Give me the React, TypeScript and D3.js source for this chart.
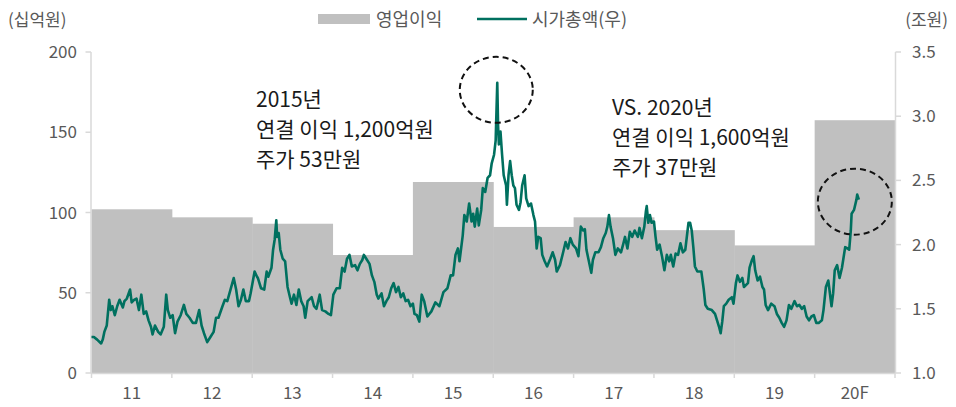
import React from "react";
import * as d3 from "d3";

// ---- data ----
const categories = ["11", "12", "13", "14", "15", "16", "17", "18", "19", "20F"];
const categoryYears = [2011, 2012, 2013, 2014, 2015, 2016, 2017, 2018, 2019, 2020];
const operatingProfit = [102, 97, 93, 73.5, 119, 91, 97, 89, 79.5, 157.5]; // 십억원
const leftTicks = [0, 50, 100, 150, 200];
const rightTicks = [1.0, 1.5, 2.0, 2.5, 3.0, 3.5];

// 시가총액 (조원): [year fraction, value]
const marketCap: [number, number][] = [
  [2011.0, 1.28], [2011.03, 1.28], [2011.07, 1.26], [2011.12, 1.23], [2011.14, 1.26], [2011.16, 1.32],
  [2011.19, 1.37], [2011.22, 1.57], [2011.24, 1.49], [2011.26, 1.52], [2011.29, 1.45], [2011.32, 1.52],
  [2011.35, 1.57], [2011.39, 1.51], [2011.41, 1.56], [2011.44, 1.58], [2011.48, 1.65], [2011.5, 1.55],
  [2011.53, 1.57], [2011.56, 1.58], [2011.59, 1.49], [2011.62, 1.61], [2011.65, 1.46], [2011.68, 1.48],
  [2011.71, 1.41], [2011.74, 1.36], [2011.76, 1.3], [2011.79, 1.37], [2011.83, 1.32], [2011.86, 1.3],
  [2011.9, 1.36], [2011.93, 1.61], [2011.95, 1.49], [2011.98, 1.43], [2012.01, 1.45], [2012.04, 1.31],
  [2012.07, 1.4], [2012.11, 1.45], [2012.15, 1.53], [2012.18, 1.46], [2012.22, 1.43], [2012.26, 1.39],
  [2012.3, 1.39], [2012.34, 1.49], [2012.37, 1.37], [2012.4, 1.31], [2012.44, 1.24], [2012.48, 1.28],
  [2012.52, 1.32], [2012.55, 1.43], [2012.58, 1.43], [2012.63, 1.52], [2012.66, 1.57], [2012.69, 1.56],
  [2012.73, 1.65], [2012.77, 1.74], [2012.8, 1.65], [2012.83, 1.52], [2012.86, 1.57], [2012.89, 1.65],
  [2012.92, 1.56], [2012.96, 1.56], [2012.98, 1.62], [2013.03, 1.79], [2013.06, 1.75], [2013.07, 1.74],
  [2013.11, 1.66], [2013.15, 1.65], [2013.18, 1.79], [2013.2, 1.75], [2013.24, 1.82], [2013.26, 1.96],
  [2013.28, 2.04], [2013.3, 2.19], [2013.31, 2.06], [2013.33, 2.09], [2013.35, 1.96], [2013.38, 1.89],
  [2013.41, 1.87], [2013.44, 1.67], [2013.47, 1.59], [2013.49, 1.54], [2013.52, 1.61], [2013.55, 1.53],
  [2013.58, 1.65], [2013.61, 1.56], [2013.64, 1.52], [2013.66, 1.43], [2013.69, 1.56], [2013.74, 1.59],
  [2013.77, 1.52], [2013.8, 1.5], [2013.84, 1.61], [2013.87, 1.49], [2013.91, 1.48], [2013.95, 1.46],
  [2013.98, 1.45], [2014.01, 1.61], [2014.05, 1.66], [2014.09, 1.66], [2014.12, 1.82], [2014.15, 1.79],
  [2014.18, 1.89], [2014.21, 1.92], [2014.24, 1.83], [2014.28, 1.84], [2014.31, 1.8], [2014.34, 1.85],
  [2014.37, 1.88], [2014.39, 1.92], [2014.42, 1.89], [2014.46, 1.85], [2014.49, 1.76], [2014.52, 1.71],
  [2014.55, 1.61], [2014.57, 1.58], [2014.61, 1.62], [2014.64, 1.52], [2014.67, 1.56], [2014.7, 1.59],
  [2014.73, 1.66], [2014.76, 1.7], [2014.79, 1.63], [2014.82, 1.67], [2014.85, 1.59], [2014.88, 1.62],
  [2014.91, 1.56], [2014.94, 1.57], [2014.97, 1.52], [2015.0, 1.54], [2015.02, 1.46], [2015.05, 1.45],
  [2015.08, 1.4], [2015.11, 1.61], [2015.14, 1.56], [2015.18, 1.44], [2015.23, 1.48], [2015.28, 1.55],
  [2015.33, 1.52], [2015.38, 1.63], [2015.43, 1.66], [2015.47, 1.76], [2015.5, 1.76], [2015.53, 1.92],
  [2015.56, 1.97], [2015.58, 1.87], [2015.62, 2.07], [2015.64, 2.23], [2015.67, 2.18], [2015.7, 2.32],
  [2015.73, 2.18], [2015.75, 2.24], [2015.77, 2.14], [2015.8, 2.28], [2015.82, 2.15], [2015.85, 2.27],
  [2015.87, 2.44], [2015.9, 2.41], [2015.93, 2.52], [2015.96, 2.54], [2015.98, 2.63], [2016.01, 2.7],
  [2016.03, 2.81], [2016.05, 3.26], [2016.06, 2.93], [2016.07, 2.78], [2016.09, 2.88], [2016.11, 2.7],
  [2016.13, 2.54], [2016.16, 2.46], [2016.17, 2.31], [2016.19, 2.54], [2016.21, 2.65], [2016.23, 2.54],
  [2016.25, 2.46], [2016.27, 2.44], [2016.29, 2.31], [2016.32, 2.27], [2016.34, 2.33], [2016.36, 2.46],
  [2016.39, 2.54], [2016.41, 2.36], [2016.44, 2.3], [2016.47, 2.32], [2016.5, 2.23], [2016.52, 2.18],
  [2016.54, 1.97], [2016.56, 2.06], [2016.59, 2.05], [2016.61, 1.92], [2016.64, 1.87], [2016.67, 1.83],
  [2016.71, 1.89], [2016.74, 1.94], [2016.77, 1.88], [2016.79, 1.79], [2016.83, 1.84], [2016.87, 1.94],
  [2016.9, 2.02], [2016.93, 1.97], [2016.96, 2.05], [2016.99, 2.0], [2017.03, 1.97], [2017.06, 1.91],
  [2017.09, 2.14], [2017.12, 2.11], [2017.14, 2.12], [2017.16, 1.96], [2017.19, 1.87], [2017.22, 1.78],
  [2017.24, 1.88], [2017.27, 1.94], [2017.31, 1.94], [2017.34, 1.98], [2017.37, 2.05], [2017.4, 2.09],
  [2017.42, 2.14], [2017.44, 2.23], [2017.46, 2.14], [2017.49, 2.05], [2017.52, 1.92], [2017.55, 1.97],
  [2017.59, 1.94], [2017.62, 2.01], [2017.64, 2.06], [2017.67, 1.97], [2017.7, 2.1], [2017.73, 2.06],
  [2017.76, 2.11], [2017.8, 2.06], [2017.82, 2.13], [2017.85, 2.05], [2017.88, 2.14], [2017.9, 2.26],
  [2017.91, 2.3], [2017.93, 2.17], [2017.95, 2.23], [2017.97, 2.17], [2018.0, 2.18], [2018.02, 2.06],
  [2018.04, 1.96], [2018.07, 2.0], [2018.1, 1.91], [2018.13, 1.8], [2018.16, 1.92], [2018.19, 1.87],
  [2018.21, 1.92], [2018.24, 1.83], [2018.27, 1.93], [2018.3, 1.92], [2018.33, 2.01], [2018.36, 1.94],
  [2018.39, 1.96], [2018.43, 2.17], [2018.45, 2.17], [2018.47, 2.11], [2018.49, 1.98], [2018.51, 1.83],
  [2018.54, 1.79], [2018.59, 1.79], [2018.62, 1.65], [2018.64, 1.53], [2018.67, 1.5], [2018.72, 1.49],
  [2018.76, 1.46], [2018.79, 1.4], [2018.81, 1.36], [2018.83, 1.31], [2018.85, 1.4], [2018.87, 1.52],
  [2018.9, 1.54], [2018.93, 1.57], [2018.97, 1.59], [2018.99, 1.54], [2019.02, 1.7], [2019.04, 1.76],
  [2019.07, 1.71], [2019.1, 1.74], [2019.12, 1.67], [2019.17, 1.7], [2019.19, 1.82], [2019.22, 1.88],
  [2019.24, 1.91], [2019.26, 1.8], [2019.29, 1.72], [2019.32, 1.75], [2019.35, 1.67], [2019.37, 1.65],
  [2019.39, 1.53], [2019.42, 1.49], [2019.46, 1.54], [2019.5, 1.52], [2019.53, 1.46], [2019.56, 1.43],
  [2019.59, 1.39], [2019.62, 1.36], [2019.65, 1.41], [2019.68, 1.53], [2019.71, 1.5], [2019.75, 1.56],
  [2019.78, 1.52], [2019.81, 1.53], [2019.84, 1.5], [2019.87, 1.52], [2019.9, 1.44], [2019.93, 1.41],
  [2019.96, 1.44], [2019.99, 1.45], [2020.02, 1.39], [2020.05, 1.39], [2020.09, 1.41], [2020.11, 1.49],
  [2020.14, 1.67], [2020.17, 1.72], [2020.19, 1.62], [2020.21, 1.52], [2020.23, 1.62], [2020.25, 1.8],
  [2020.28, 1.84], [2020.31, 1.74], [2020.34, 1.82], [2020.38, 1.98], [2020.41, 1.97], [2020.43, 1.96],
  [2020.45, 2.11], [2020.46, 2.24], [2020.49, 2.27], [2020.52, 2.35], [2020.53, 2.39], [2020.55, 2.35],
];

const annotation2015 = ["2015년", "연결 이익 1,200억원", "주가 53만원"];
const annotation2020 = ["VS. 2020년", "연결 이익 1,600억원", "주가 37만원"];

const W = 956;
const H = 407;
const FONT = "'Noto Sans CJK KR', 'Noto Sans', sans-serif";

export default function App() {
  const left = 91.5;
  const right = 895;
  const top = 52;
  const bottom = 373;

  const xBand = d3.scaleBand<string>().domain(categories).range([left, right]).paddingInner(0).paddingOuter(0);
  const xTime = d3.scaleLinear().domain([categoryYears[0], categoryYears[categoryYears.length - 1] + 1]).range([left, right]);
  const yL = d3.scaleLinear().domain([0, 200]).range([bottom, top]);
  const yR = d3.scaleLinear().domain([1.0, 3.5]).range([bottom, top]);

  const line = d3
    .line<[number, number]>()
    .x((d) => xTime(d[0]))
    .y((d) => yR(d[1]))
    .curve(d3.curveLinear);

  const axisColor = "#d9d9d9";
  const tickText = "#595959";
  const teal = "#00705f";
  const barGray = "#c0c0c0";

  const peak = marketCap.reduce((a, b) => (b[1] > a[1] ? b : a));
  const last = marketCap[marketCap.length - 1];

  const boundaries = categories.map((c) => xBand(c) as number).concat([right]);

  return (
    <svg width={W} height={H} style={{ position: "absolute", left: 0, top: 0, background: "#fff" }} fontFamily={FONT}>
      {/* bars */}
      {categories.map((c, i) => (
        <rect
          key={c}
          x={xBand(c) as number}
          y={yL(operatingProfit[i])}
          width={(xBand.bandwidth() as number) + 0.5}
          height={bottom - yL(operatingProfit[i])}
          fill={barGray}
        />
      ))}

      {/* axes */}
      <line x1={left - 0.5} x2={left - 0.5} y1={top} y2={bottom} stroke={axisColor} strokeWidth={1.5} />
      {leftTicks.map((t) => (
        <g key={"l" + t}>
          <line x1={left - 6} x2={left - 0.5} y1={yL(t)} y2={yL(t)} stroke={axisColor} strokeWidth={1.5} />
          <text x={77} y={yL(t) + 6} textAnchor="end" fontSize={17} fill={tickText}>
            {t}
          </text>
        </g>
      ))}
      <line x1={right + 0.5} x2={right + 0.5} y1={top} y2={bottom} stroke={axisColor} strokeWidth={1.5} />
      {rightTicks.map((t) => (
        <g key={"r" + t}>
          <line x1={right + 0.5} x2={right + 6} y1={yR(t)} y2={yR(t)} stroke={axisColor} strokeWidth={1.5} />
          <text x={912} y={yR(t) + 6} textAnchor="start" fontSize={17} fill={tickText}>
            {t.toFixed(1)}
          </text>
        </g>
      ))}
      <line x1={left - 0.5} x2={right + 0.5} y1={bottom + 0.5} y2={bottom + 0.5} stroke={axisColor} strokeWidth={1.5} />
      {boundaries.map((b, i) => (
        <line key={"xt" + i} x1={b} x2={b} y1={bottom} y2={bottom + 5} stroke={axisColor} strokeWidth={1.5} />
      ))}
      {categories.map((c) => (
        <text
          key={"xl" + c}
          x={(xBand(c) as number) + xBand.bandwidth() / 2}
          y={399}
          textAnchor="middle"
          fontSize={17}
          fill={tickText}
        >
          {c}
        </text>
      ))}

      {/* market cap line */}
      <path d={line(marketCap) || ""} fill="none" stroke={teal} strokeWidth={2.6} strokeLinejoin="round" />

      {/* dashed ellipses */}
      <ellipse
        cx={xTime(peak[0]) - 1}
        cy={yR(peak[1]) + 7}
        rx={36.5}
        ry={33}
        fill="none"
        stroke="#111"
        strokeWidth={2}
        strokeDasharray="6 4"
      />
      <ellipse
        cx={xTime(last[0]) - 4}
        cy={yR(last[1]) + 2}
        rx={37}
        ry={33}
        fill="none"
        stroke="#111"
        strokeWidth={2}
        strokeDasharray="6 4"
      />

      {/* annotations */}
      {annotation2015.map((s, i) => (
        <text key={"a1" + i} x={256} y={107 + i * 30} fontSize={21} fill="#1a1a1a">
          {s}
        </text>
      ))}
      {annotation2020.map((s, i) => (
        <text key={"a2" + i} x={612} y={115 + i * 30} fontSize={21} fill="#1a1a1a">
          {s}
        </text>
      ))}

      {/* unit labels */}
      <text x={8} y={26} fontSize={17} fill={tickText}>
        (십억원)
      </text>
      <text x={948} y={26} fontSize={17} fill={tickText} textAnchor="end">
        (조원)
      </text>

      {/* legend */}
      <rect x={318} y={14} width={52} height={10} fill={barGray} />
      <text x={376} y={26} fontSize={18} fill={tickText}>
        영업이익
      </text>
      <line x1={477} x2={527} y1={19} y2={19} stroke={teal} strokeWidth={2.5} />
      <text x={532} y={26} fontSize={18} fill={tickText}>
        시가총액(우)
      </text>
    </svg>
  );
}
